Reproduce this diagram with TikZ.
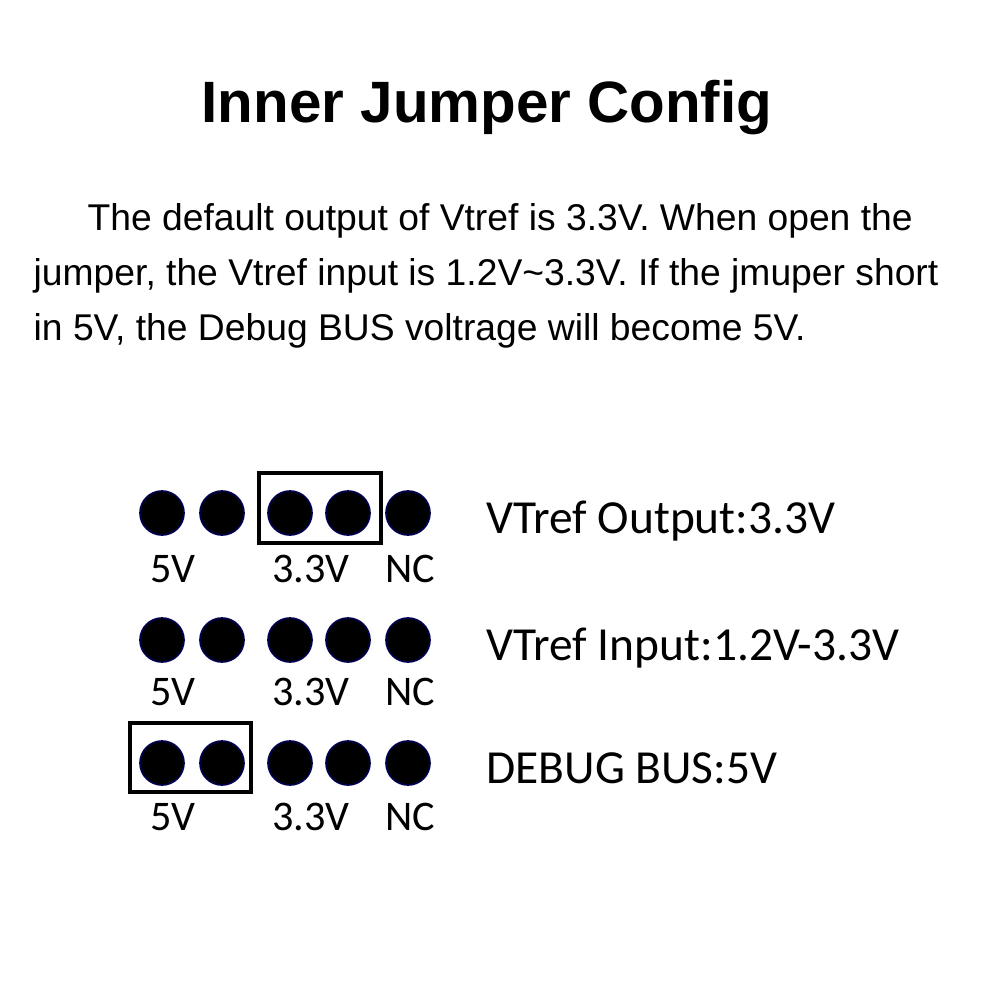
\documentclass[tikz,border=0pt]{standalone}
\usepackage{fontspec}
\setmainfont{Liberation Sans}
\newfontfamily\calfont{Carlito}
\begin{document}
\begin{tikzpicture}[x=0.1mm,y=-0.1mm,
  pin/.style={circle,fill=black,draw=black!70!blue,line width=0.5pt,minimum size=12.5pt,inner sep=0pt},
  jbox/.style={draw=black,line width=1.2pt},
  lbl/.style={font=\calfont\fontsize{12}{14}\selectfont,anchor=base},
  desc/.style={font=\calfont\fontsize{13.5}{16}\selectfont,anchor=base west},
  para/.style={font=\fontsize{10.6}{12}\selectfont,anchor=base west,inner sep=0pt}]
\useasboundingbox (0,0) rectangle (1000,1000);
\node[font=\bfseries\fontsize{16.6}{20}\selectfont] (title) at (487,108) {Inner Jumper Config};
\node[para] (p1) at (87,230) {The default output of Vtref is 3.3V. When open the};
\node[para] (p2) at (33,285) {jumper, the Vtref input is 1.2V\textasciitilde3.3V. If the jmuper short};
\node[para] (p3) at (33,340) {in 5V, the Debug BUS voltrage will become 5V.};
\foreach \r/\y/\ly/\t in {1/513/582/VTref Output:3.3V,2/640/705/VTref Input:1.2V-3.3V,3/763/830/DEBUG BUS:5V}{
  \foreach \i/\x in {1/162,2/222,3/290,4/348,5/408}{
    \node[pin] (d\r\i) at (\x,\y) {};
  }
  \node[lbl] (a\r) at (173,\ly) {5V};
  \node[lbl] (b\r) at (311,\ly) {3.3V};
  \node[lbl] (c\r) at (410,\ly) {NC};
  \node[desc] (t\r) at (474,\y+20) {\t};
}
\draw[jbox] (259,473) rectangle (381,543);
\draw[jbox] (130,723) rectangle (251,792);
\end{tikzpicture}
\end{document}
